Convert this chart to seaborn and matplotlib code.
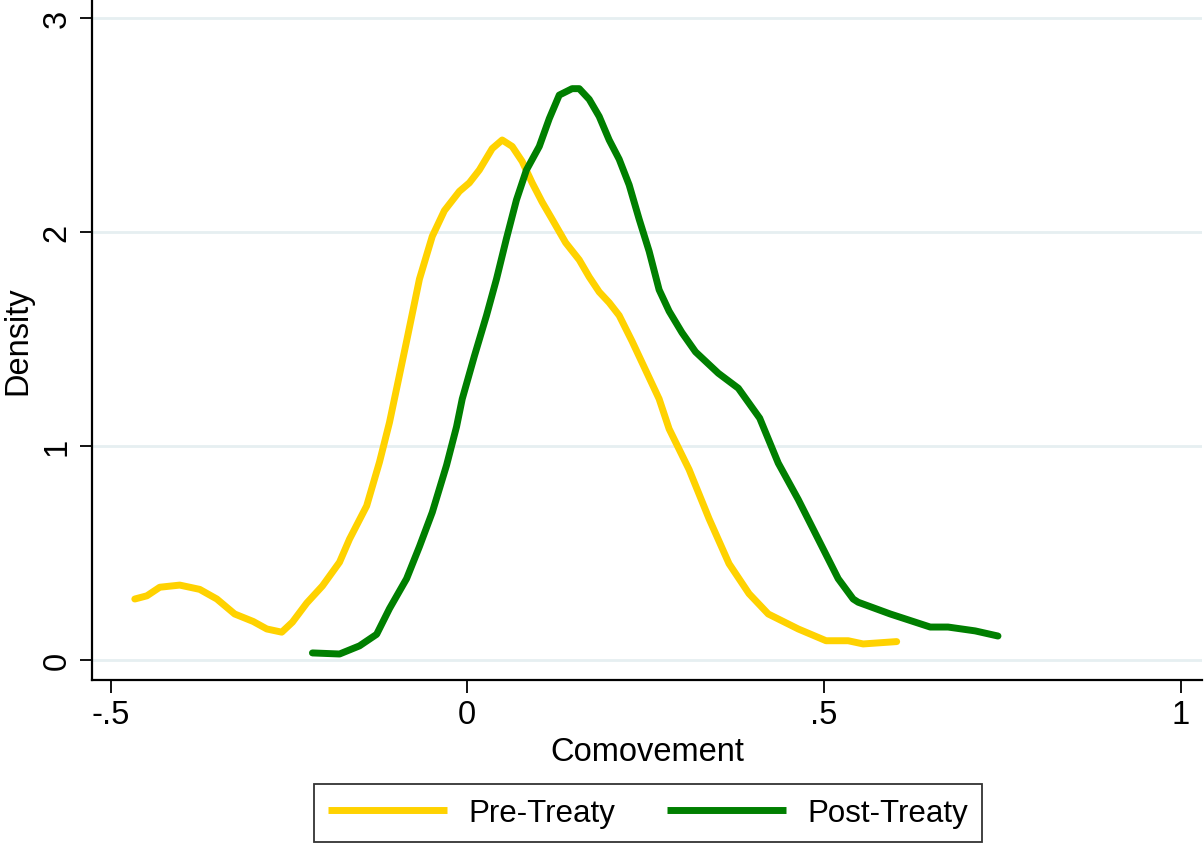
import numpy as np
import pandas as pd
import seaborn as sns
import matplotlib.pyplot as plt

# values
pre_x = [-0.466, -0.449, -0.431, -0.403, -0.375, -0.351, -0.326, -0.300, -0.281, -0.260,
         -0.245, -0.225, -0.203, -0.179, -0.165, -0.141, -0.123, -0.109, -0.085, -0.067,
         -0.049, -0.032, -0.011, 0.003, 0.017, 0.035, 0.049, 0.063, 0.077, 0.091,
         0.105, 0.119, 0.138, 0.157, 0.171, 0.185, 0.199, 0.213, 0.231, 0.269,
         0.283, 0.311, 0.339, 0.367, 0.395, 0.422, 0.464, 0.503, 0.534, 0.555, 0.602]
pre_y = [0.285, 0.30, 0.34, 0.35, 0.33, 0.285, 0.215, 0.18, 0.145, 0.13,
         0.177, 0.266, 0.346, 0.457, 0.565, 0.72, 0.925, 1.11, 1.49, 1.78,
         1.98, 2.10, 2.19, 2.23, 2.29, 2.39, 2.43, 2.40, 2.33, 2.23,
         2.14, 2.06, 1.95, 1.87, 1.79, 1.72, 1.67, 1.61, 1.49, 1.22,
         1.08, 0.89, 0.66, 0.45, 0.31, 0.215, 0.145, 0.09, 0.09, 0.075, 0.086]

post_x = [-0.217, -0.179, -0.151, -0.127, -0.109, -0.085, -0.067, -0.049, -0.029, -0.015,
          -0.007, 0.010, 0.027, 0.041, 0.055, 0.069, 0.083, 0.101, 0.115, 0.129,
          0.147, 0.157, 0.171, 0.185, 0.199, 0.213, 0.227, 0.241, 0.255, 0.269,
          0.283, 0.301, 0.320, 0.352, 0.380, 0.410, 0.436, 0.464, 0.492, 0.520,
          0.541, 0.548, 0.593, 0.649, 0.674, 0.712, 0.744]
post_y = [0.033, 0.028, 0.066, 0.12, 0.24, 0.38, 0.53, 0.69, 0.91, 1.09,
          1.22, 1.42, 1.61, 1.78, 1.97, 2.15, 2.29, 2.40, 2.53, 2.64,
          2.67, 2.67, 2.62, 2.54, 2.43, 2.34, 2.22, 2.06, 1.91, 1.73,
          1.63, 1.53, 1.44, 1.34, 1.27, 1.13, 0.92, 0.75, 0.565, 0.38,
          0.285, 0.27, 0.215, 0.154, 0.154, 0.136, 0.112]

groups = ['Pre-Treaty', 'Post-Treaty']
colors = ['#FFD200', '#007F00']
x_ticks = [-0.5, 0, 0.5, 1]
x_labels = ['-.5', '0', '.5', '1']
y_ticks = [0, 1, 2, 3]

df = pd.concat([
    pd.DataFrame({'Comovement': pre_x, 'Density': pre_y, 'group': groups[0]}),
    pd.DataFrame({'Comovement': post_x, 'Density': post_y, 'group': groups[1]}),
])

sns.set_style('white')
plt.rcParams['font.family'] = ['Liberation Sans', 'DejaVu Sans']
plt.rcParams['text.color'] = 'black'
plt.rcParams['axes.labelcolor'] = 'black'
plt.rcParams['xtick.color'] = 'black'
plt.rcParams['ytick.color'] = 'black'

fs = 23.5
lw = 5

fig = plt.figure(figsize=(12.04, 8.45), dpi=100)
ax = fig.add_axes([92 / 1204, 1 - 681 / 845, (1202 - 92) / 1204, 681 / 845])

sns.lineplot(data=df, x='Comovement', y='Density', hue='group', hue_order=groups,
             palette=colors, sort=False, estimator=None, linewidth=lw,
             solid_capstyle='round', solid_joinstyle='round', ax=ax, legend=True)

ax.set_xlim(-0.526, 1.03)
ax.set_ylim(-0.0935, 3.089)
ax.set_xticks(x_ticks)
ax.set_xticklabels(x_labels)
ax.set_yticks(y_ticks)
ax.set_yticklabels([str(t) for t in y_ticks], rotation=90, va='center')
ax.grid(axis='y', color='#E6EFF1', linewidth=2)
ax.set_axisbelow(True)

for s in ['top', 'right']:
    ax.spines[s].set_visible(False)
for s in ['left', 'bottom']:
    ax.spines[s].set_color('black')
    ax.spines[s].set_linewidth(1.6)

ax.tick_params(axis='both', which='both', direction='out', length=9, width=1.3,
               labelsize=fs, left=True, bottom=True, pad=5)
ax.set_xlabel('Comovement', fontsize=fs, labelpad=4)
ax.set_ylabel('Density', fontsize=fs, labelpad=6)

handles, labels = ax.get_legend_handles_labels()
ax.get_legend().remove()
leg = fig.legend(handles, labels, loc='center', bbox_to_anchor=(648 / 1204, 1 - 814 / 845),
                 ncol=2, fontsize=22.5, frameon=True, fancybox=False, handlelength=3.8,
                 handletextpad=0.7, columnspacing=1.65, borderpad=0.45, borderaxespad=0)
leg.get_frame().set_edgecolor('black')
leg.get_frame().set_linewidth(1.3)
for line in leg.get_lines():
    line.set_linewidth(lw)
    line.set_solid_capstyle('butt')

fig.savefig('out.png', dpi=100)
